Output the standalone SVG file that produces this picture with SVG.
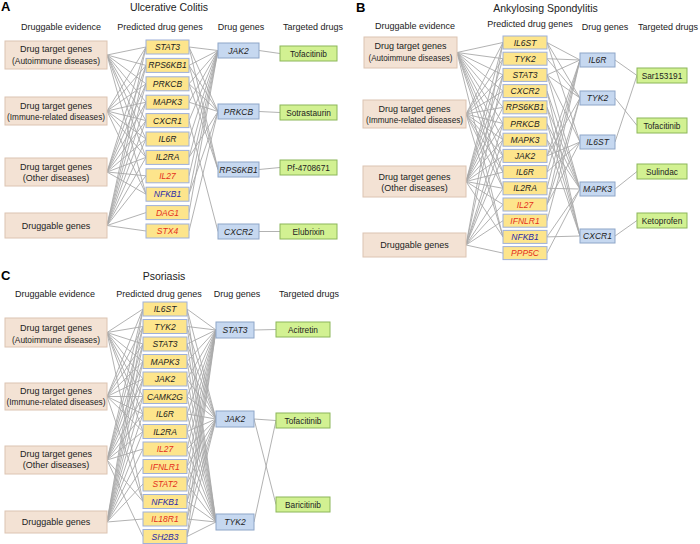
<svg xmlns="http://www.w3.org/2000/svg" width="700" height="544" viewBox="0 0 700 544">
<style>
text{font-family:"Liberation Sans",Arial,sans-serif;fill:#222}
.t{font-size:10.5px;text-anchor:middle}
.h{font-size:9px;text-anchor:middle}
.L{font-size:13px;font-weight:bold;fill:#000}
.ev rect{fill:#f3e2d4;stroke:#dcc4b2;stroke-width:1}
.ev text{font-size:9px;text-anchor:middle}
.g rect{fill:#fde58c;stroke:#9eb0da;stroke-width:1}
.g text{font-size:8.5px;font-style:italic;text-anchor:middle}
.g text.r{fill:#e4301c}
.g text.b{fill:#2b2ba8}
.dg rect{fill:#c6d8f0;stroke:#8ea6c8;stroke-width:1}
.dg text{font-size:8.5px;font-style:italic;text-anchor:middle}
.d rect{fill:#d2f192;stroke:#8cb65a;stroke-width:1}
.d text{font-size:8.3px;text-anchor:middle}
.cn path{fill:none;stroke:#a9a9a9;stroke-width:0.9}
</style>

<!-- labels -->
<text class="L" x="1" y="11">A</text>
<text class="L" x="356" y="12">B</text>
<text class="L" x="1" y="280">C</text>
<text class="t" x="169" y="11">Ulcerative Colitis</text>
<text class="t" x="545.5" y="12">Ankylosing Spondylitis</text>
<text class="t" x="164" y="280">Psoriasis</text>
<text class="h" x="61" y="29.5">Druggable evidence</text>
<text class="h" x="160" y="29.5">Predicted drug genes</text>
<text class="h" x="241" y="29.5">Drug genes</text>
<text class="h" x="313" y="29.5">Targeted drugs</text>
<text class="h" x="415" y="29">Druggable evidence</text>
<text class="h" x="530" y="26.5">Predicted drug genes</text>
<text class="h" x="605" y="30">Drug genes</text>
<text class="h" x="668" y="30">Targeted drugs</text>
<text class="h" x="55" y="297">Druggable evidence</text>
<text class="h" x="159" y="297">Predicted drug genes</text>
<text class="h" x="237" y="297">Drug genes</text>
<text class="h" x="309" y="297">Targeted drugs</text>

<g id="connectors" class="cn">
<path d="M107 55L146 47M107 55L146 65.4M107 55L146 83.8M107 55L146 102.2M107 55L146 120.6M107 55L146 139M107 55L146 157.4M107 55L146 194.2"/>
<path d="M107 111L146 47M107 111L146 65.4M107 111L146 83.8M107 111L146 102.2M107 111L146 120.6M107 111L146 139M107 111L146 157.4M107 111L146 194.2"/>
<path d="M107 172L146 47M107 172L146 65.4M107 172L146 83.8M107 172L146 102.2M107 172L146 120.6M107 172L146 139M107 172L146 157.4M107 172L146 175.8M107 172L146 194.2"/>
<path d="M107 225.5L146 47M107 225.5L146 65.4M107 225.5L146 83.8M107 225.5L146 102.2M107 225.5L146 120.6M107 225.5L146 139M107 225.5L146 157.4M107 225.5L146 175.8M107 225.5L146 212.6M107 225.5L146 231"/>
<path d="M218 50.5L189 47M218 50.5L189 65.4M218 50.5L189 83.8M218 50.5L189 102.2M218 50.5L189 120.6M218 50.5L189 139M218 50.5L189 157.4M218 50.5L189 175.8M218 50.5L189 194.2M218 50.5L189 212.6"/>
<path d="M218 111.5L189 47M218 111.5L189 65.4M218 111.5L189 83.8M218 111.5L189 102.2M218 111.5L189 157.4M218 111.5L189 194.2M218 111.5L189 231"/>
<path d="M218 169.5L189 47M218 169.5L189 65.4M218 169.5L189 83.8M218 231.5L189 120.6"/>
<path d="M259 50.5L280 53.5M259 111.5L280 112.5M259 169.5L280 167.5M259 231.5L280 231.5"/>

<path d="M457 52.5L503 42.5M457 52.5L503 58.7M457 52.5L503 74.9M457 52.5L503 91.1M457 52.5L503 107.3M457 52.5L503 123.5M457 52.5L503 139.7M457 52.5L503 155.9M457 52.5L503 172.1M457 52.5L503 188.3M457 52.5L503 236.9"/>
<path d="M466 114L503 42.5M466 114L503 58.7M466 114L503 74.9M466 114L503 91.1M466 114L503 107.3M466 114L503 123.5M466 114L503 139.7M466 114L503 155.9M466 114L503 172.1M466 114L503 188.3M466 114L503 236.9"/>
<path d="M466 181.5L503 42.5M466 181.5L503 58.7M466 181.5L503 74.9M466 181.5L503 91.1M466 181.5L503 107.3M466 181.5L503 123.5M466 181.5L503 139.7M466 181.5L503 155.9M466 181.5L503 172.1M466 181.5L503 188.3M466 181.5L503 204.5M466 181.5L503 236.9"/>
<path d="M466 245L503 42.5M466 245L503 74.9M466 245L503 123.5M466 245L503 139.7M466 245L503 155.9M466 245L503 188.3M466 245L503 204.5M466 245L503 220.7M466 245L503 253.1"/>
<path d="M580 60L547 42.5M580 60L547 58.7M580 60L547 74.9M580 60L547 155.9M580 60L547 172.1M580 60L547 188.3M580 60L547 204.5"/>
<path d="M580 98L547 42.5M580 98L547 58.7M580 98L547 74.9M580 98L547 155.9M580 98L547 204.5M580 98L547 220.7"/>
<path d="M580 142L547 42.5M580 142L547 74.9M580 142L547 155.9M580 142L547 172.1M580 142L547 204.5"/>
<path d="M580 189L547 74.9M580 189L547 91.1M580 189L547 107.3M580 189L547 123.5M580 189L547 139.7M580 189L547 188.3M580 189L547 236.9M580 189L547 253.1"/>
<path d="M580 236L547 91.1M580 236L547 107.3M580 236L547 123.5M580 236L547 139.7M580 236L547 236.9"/>
<path d="M615 60L637 75.5M615 98L637 125.5M615 142L637 75.5M615 189L637 171.5M615 236L637 220.5"/>

<path d="M107 332.5L143 309M107 332.5L143 326.5M107 332.5L143 344M107 332.5L143 361.5M107 332.5L143 379M107 332.5L143 396.5M107 332.5L143 414M107 332.5L143 431.5M107 332.5L143 501.5"/>
<path d="M107 396.5L143 309M107 396.5L143 326.5M107 396.5L143 344M107 396.5L143 361.5M107 396.5L143 379M107 396.5L143 396.5M107 396.5L143 414M107 396.5L143 431.5M107 396.5L143 501.5"/>
<path d="M107 460L143 309M107 460L143 326.5M107 460L143 344M107 460L143 361.5M107 460L143 379M107 460L143 396.5M107 460L143 414M107 460L143 431.5M107 460L143 449M107 460L143 501.5M107 460L143 536.5"/>
<path d="M107 522L143 309M107 522L143 326.5M107 522L143 344M107 522L143 361.5M107 522L143 379M107 522L143 396.5M107 522L143 414M107 522L143 431.5M107 522L143 449M107 522L143 466.5M107 522L143 484M107 522L143 519"/>
<path d="M216 330L187 309M216 330L187 326.5M216 330L187 344M216 330L187 361.5M216 330L187 379M216 330L187 396.5M216 330L187 414M216 330L187 431.5M216 330L187 449M216 330L187 466.5M216 330L187 484M216 330L187 501.5M216 330L187 519M216 330L187 536.5"/>
<path d="M216 419L187 309M216 419L187 326.5M216 419L187 344M216 419L187 361.5M216 419L187 379M216 419L187 396.5M216 419L187 414M216 419L187 431.5M216 419L187 449M216 419L187 466.5M216 419L187 484M216 419L187 501.5M216 419L187 519M216 419L187 536.5"/>
<path d="M216 522L187 309M216 522L187 326.5M216 522L187 344M216 522L187 361.5M216 522L187 379M216 522L187 396.5M216 522L187 414M216 522L187 431.5M216 522L187 449M216 522L187 466.5M216 522L187 484M216 522L187 501.5M216 522L187 519M216 522L187 536.5"/>
<path d="M254 330L276 329.5M254 419L276 420.5M254 419L276 504.5M254 522L276 420.5"/>
</g>

<!-- Panel A nodes -->
<g id="A-ev1" class="ev"><rect x="5" y="41" width="102" height="28"/><text x="56" y="52">Drug target genes</text><text x="56" y="63.5" textLength="88" lengthAdjust="spacingAndGlyphs">(Autoimmune diseases)</text></g>
<g id="A-ev2" class="ev"><rect x="5" y="97" width="102" height="28"/><text x="56" y="109">Drug target genes</text><text x="56" y="119.5" textLength="98" lengthAdjust="spacingAndGlyphs">(Immune-related diseases)</text></g>
<g id="A-ev3" class="ev"><rect x="5" y="158" width="102" height="28"/><text x="56" y="170">Drug target genes</text><text x="56" y="181">(Other diseases)</text></g>
<g id="A-ev4" class="ev"><rect x="5" y="213" width="102" height="25"/><text x="56" y="228.5">Druggable genes</text></g>

<g id="A-g-STAT3" class="g"><rect x="146" y="40" width="43" height="14"/><text x="167.5" y="50">STAT3</text></g>
<g id="A-g-RPS6KB1" class="g"><rect x="146" y="58.4" width="43" height="14"/><text x="167.5" y="68.4">RPS6KB1</text></g>
<g id="A-g-PRKCB" class="g"><rect x="146" y="76.8" width="43" height="14"/><text x="167.5" y="86.8">PRKCB</text></g>
<g id="A-g-MAPK3" class="g"><rect x="146" y="95.2" width="43" height="14"/><text x="167.5" y="105.2">MAPK3</text></g>
<g id="A-g-CXCR1" class="g"><rect x="146" y="113.6" width="43" height="14"/><text x="167.5" y="123.6">CXCR1</text></g>
<g id="A-g-IL6R" class="g"><rect x="146" y="132" width="43" height="14"/><text x="167.5" y="142">IL6R</text></g>
<g id="A-g-IL2RA" class="g"><rect x="146" y="150.4" width="43" height="14"/><text x="167.5" y="160.4">IL2RA</text></g>
<g id="A-g-IL27" class="g"><rect x="146" y="168.8" width="43" height="14"/><text class="r" x="167.5" y="178.8">IL27</text></g>
<g id="A-g-NFKB1" class="g"><rect x="146" y="187.2" width="43" height="14"/><text class="b" x="167.5" y="197.2">NFKB1</text></g>
<g id="A-g-DAG1" class="g"><rect x="146" y="205.6" width="43" height="14"/><text class="r" x="167.5" y="215.6">DAG1</text></g>
<g id="A-g-STX4" class="g"><rect x="146" y="224" width="43" height="14"/><text class="r" x="167.5" y="234">STX4</text></g>

<g id="A-dg-JAK2" class="dg"><rect x="218" y="43" width="41" height="15"/><text x="238.5" y="53.5">JAK2</text></g>
<g id="A-dg-PRKCB" class="dg"><rect x="218" y="104" width="41" height="15"/><text x="238.5" y="114.5">PRKCB</text></g>
<g id="A-dg-RPS6KB1" class="dg"><rect x="218" y="162" width="41" height="15"/><text x="238.5" y="172.5">RPS6KB1</text></g>
<g id="A-dg-CXCR2" class="dg"><rect x="218" y="224" width="41" height="15"/><text x="238.5" y="234.5">CXCR2</text></g>

<g id="A-d-Tofacitinib" class="d"><rect x="280" y="46" width="57" height="15"/><text x="308.5" y="56.5">Tofacitinib</text></g>
<g id="A-d-Sotrastaurin" class="d"><rect x="280" y="105" width="57" height="15"/><text x="308.5" y="115.5">Sotrastaurin</text></g>
<g id="A-d-Pf4708671" class="d"><rect x="280" y="160" width="57" height="15"/><text x="308.5" y="170.5">Pf-4708671</text></g>
<g id="A-d-Elubrixin" class="d"><rect x="280" y="224" width="57" height="15"/><text x="308.5" y="234.5">Elubrixin</text></g>

<!-- Panel B nodes -->
<g id="B-ev1" class="ev"><rect x="364" y="37" width="93" height="31"/><text x="410.5" y="49">Drug target genes</text><text x="410.5" y="60.5" textLength="84" lengthAdjust="spacingAndGlyphs">(Autoimmune diseases)</text></g>
<g id="B-ev2" class="ev"><rect x="363" y="100" width="103" height="28"/><text x="414.5" y="112">Drug target genes</text><text x="414.5" y="123" textLength="97" lengthAdjust="spacingAndGlyphs">(Immune-related diseases)</text></g>
<g id="B-ev3" class="ev"><rect x="363" y="166" width="103" height="31"/><text x="414.5" y="180">Drug target genes</text><text x="414.5" y="191">(Other diseases)</text></g>
<g id="B-ev4" class="ev"><rect x="363" y="233" width="103" height="24"/><text x="414.5" y="248">Druggable genes</text></g>

<g id="B-g-IL6ST" class="g"><rect x="503" y="36" width="44" height="13"/><text x="525" y="45.5">IL6ST</text></g>
<g id="B-g-TYK2" class="g"><rect x="503" y="52.2" width="44" height="13"/><text x="525" y="61.7">TYK2</text></g>
<g id="B-g-STAT3" class="g"><rect x="503" y="68.4" width="44" height="13"/><text x="525" y="77.9">STAT3</text></g>
<g id="B-g-CXCR2" class="g"><rect x="503" y="84.6" width="44" height="13"/><text x="525" y="94.1">CXCR2</text></g>
<g id="B-g-RPS6KB1" class="g"><rect x="503" y="100.8" width="44" height="13"/><text x="525" y="110.3">RPS6KB1</text></g>
<g id="B-g-PRKCB" class="g"><rect x="503" y="117" width="44" height="13"/><text x="525" y="126.5">PRKCB</text></g>
<g id="B-g-MAPK3" class="g"><rect x="503" y="133.2" width="44" height="13"/><text x="525" y="142.7">MAPK3</text></g>
<g id="B-g-JAK2" class="g"><rect x="503" y="149.4" width="44" height="13"/><text x="525" y="158.9">JAK2</text></g>
<g id="B-g-IL6R" class="g"><rect x="503" y="165.6" width="44" height="13"/><text x="525" y="175.1">IL6R</text></g>
<g id="B-g-IL2RA" class="g"><rect x="503" y="181.8" width="44" height="13"/><text x="525" y="191.3">IL2RA</text></g>
<g id="B-g-IL27" class="g"><rect x="503" y="198" width="44" height="13"/><text class="r" x="525" y="207.5">IL27</text></g>
<g id="B-g-IFNLR1" class="g"><rect x="503" y="214.2" width="44" height="13"/><text class="r" x="525" y="223.7">IFNLR1</text></g>
<g id="B-g-NFKB1" class="g"><rect x="503" y="230.4" width="44" height="13"/><text class="b" x="525" y="239.9">NFKB1</text></g>
<g id="B-g-PPP5C" class="g"><rect x="503" y="246.6" width="44" height="13"/><text class="r" x="525" y="256.1">PPP5C</text></g>

<g id="B-dg-IL6R" class="dg"><rect x="580" y="53" width="35" height="14"/><text x="597.5" y="63">IL6R</text></g>
<g id="B-dg-TYK2" class="dg"><rect x="580" y="91" width="35" height="14"/><text x="597.5" y="101">TYK2</text></g>
<g id="B-dg-IL6ST" class="dg"><rect x="580" y="135" width="35" height="14"/><text x="597.5" y="145">IL6ST</text></g>
<g id="B-dg-MAPK3" class="dg"><rect x="580" y="182" width="35" height="14"/><text x="597.5" y="192">MAPK3</text></g>
<g id="B-dg-CXCR1" class="dg"><rect x="580" y="229" width="35" height="14"/><text x="597.5" y="239">CXCR1</text></g>

<g id="B-d-Sar153191" class="d"><rect x="637" y="68" width="50" height="15"/><text x="662" y="78.5">Sar153191</text></g>
<g id="B-d-Tofacitinib" class="d"><rect x="637" y="118" width="50" height="15"/><text x="662" y="128.5">Tofacitinib</text></g>
<g id="B-d-Sulindac" class="d"><rect x="637" y="164" width="50" height="15"/><text x="662" y="174.5">Sulindac</text></g>
<g id="B-d-Ketoprofen" class="d"><rect x="637" y="213" width="50" height="15"/><text x="662" y="223.5">Ketoprofen</text></g>

<!-- Panel C nodes -->
<g id="C-ev1" class="ev"><rect x="5" y="318" width="102" height="29"/><text x="56" y="331">Drug target genes</text><text x="56" y="342.5" textLength="88" lengthAdjust="spacingAndGlyphs">(Autoimmune diseases)</text></g>
<g id="C-ev2" class="ev"><rect x="5" y="383" width="102" height="27"/><text x="56" y="393.5">Drug target genes</text><text x="56" y="404.5" textLength="99" lengthAdjust="spacingAndGlyphs">(Immune-related diseases)</text></g>
<g id="C-ev3" class="ev"><rect x="5" y="446" width="102" height="28"/><text x="56" y="457">Drug target genes</text><text x="56" y="468">(Other diseases)</text></g>
<g id="C-ev4" class="ev"><rect x="5" y="511" width="102" height="22"/><text x="56" y="525">Druggable genes</text></g>

<g id="C-g-IL6ST" class="g"><rect x="143" y="302" width="44" height="14"/><text x="165" y="312">IL6ST</text></g>
<g id="C-g-TYK2" class="g"><rect x="143" y="319.5" width="44" height="14"/><text x="165" y="329.5">TYK2</text></g>
<g id="C-g-STAT3" class="g"><rect x="143" y="337" width="44" height="14"/><text x="165" y="347">STAT3</text></g>
<g id="C-g-MAPK3" class="g"><rect x="143" y="354.5" width="44" height="14"/><text x="165" y="364.5">MAPK3</text></g>
<g id="C-g-JAK2" class="g"><rect x="143" y="372" width="44" height="14"/><text x="165" y="382">JAK2</text></g>
<g id="C-g-CAMK2G" class="g"><rect x="143" y="389.5" width="44" height="14"/><text x="165" y="399.5">CAMK2G</text></g>
<g id="C-g-IL6R" class="g"><rect x="143" y="407" width="44" height="14"/><text x="165" y="417">IL6R</text></g>
<g id="C-g-IL2RA" class="g"><rect x="143" y="424.5" width="44" height="14"/><text x="165" y="434.5">IL2RA</text></g>
<g id="C-g-IL27" class="g"><rect x="143" y="442" width="44" height="14"/><text class="r" x="165" y="452">IL27</text></g>
<g id="C-g-IFNLR1" class="g"><rect x="143" y="459.5" width="44" height="14"/><text class="r" x="165" y="469.5">IFNLR1</text></g>
<g id="C-g-STAT2" class="g"><rect x="143" y="477" width="44" height="14"/><text class="r" x="165" y="487">STAT2</text></g>
<g id="C-g-NFKB1" class="g"><rect x="143" y="494.5" width="44" height="14"/><text class="b" x="165" y="504.5">NFKB1</text></g>
<g id="C-g-IL18R1" class="g"><rect x="143" y="512" width="44" height="14"/><text class="r" x="165" y="522">IL18R1</text></g>
<g id="C-g-SH2B3" class="g"><rect x="143" y="529.5" width="44" height="14"/><text class="b" x="165" y="539.5">SH2B3</text></g>

<g id="C-dg-STAT3" class="dg"><rect x="216" y="322" width="38" height="16"/><text x="235" y="333">STAT3</text></g>
<g id="C-dg-JAK2" class="dg"><rect x="216" y="411" width="38" height="16"/><text x="235" y="422">JAK2</text></g>
<g id="C-dg-TYK2" class="dg"><rect x="216" y="514" width="38" height="16"/><text x="235" y="525">TYK2</text></g>

<g id="C-d-Acitretin" class="d"><rect x="276" y="322" width="54" height="15"/><text x="303" y="332.5">Acitretin</text></g>
<g id="C-d-Tofacitinib" class="d"><rect x="276" y="413" width="54" height="15"/><text x="303" y="423.5">Tofacitinib</text></g>
<g id="C-d-Baricitinib" class="d"><rect x="276" y="497" width="54" height="15"/><text x="303" y="507.5">Baricitinib</text></g>
</svg>
